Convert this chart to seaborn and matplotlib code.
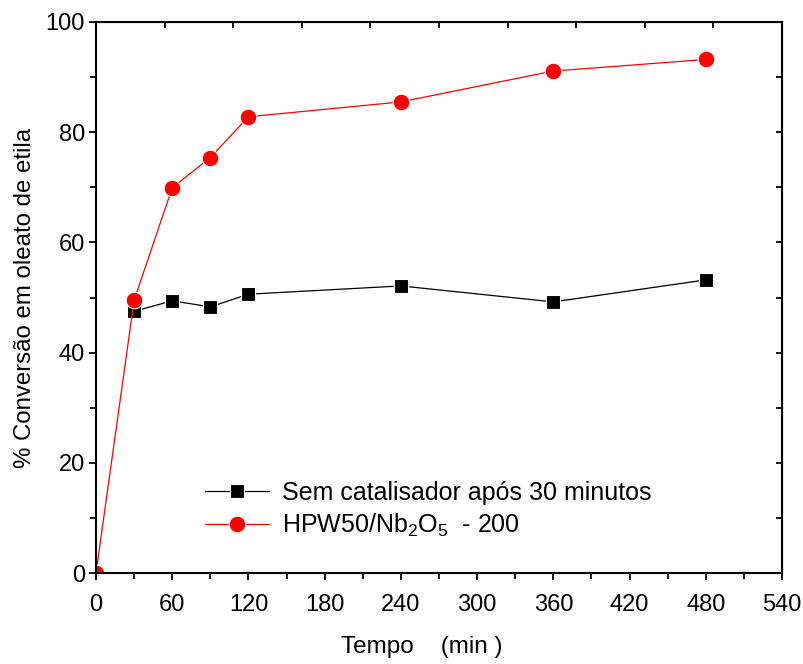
import numpy as np
import pandas as pd
import matplotlib
matplotlib.use("Agg")
import matplotlib.pyplot as plt
import seaborn as sns
from matplotlib.ticker import MultipleLocator

# ---- data ----
t_sem = [30, 60, 90, 120, 240, 360, 480]
conv_sem = [47.5, 49.4, 48.3, 50.6, 52.1, 49.2, 53.2]
t_hpw = [0, 30, 60, 90, 120, 240, 360, 480]
conv_hpw = [0.0, 49.5, 69.9, 75.4, 82.8, 85.5, 91.1, 93.2]
label_sem = "Sem catalisador após 30 minutos"
label_hpw = "HPW50/Nb$_2$O$_5$  - 200"
x_ticks = [0, 60, 120, 180, 240, 300, 360, 420, 480, 540]
y_ticks = [0, 20, 40, 60, 80, 100]

sns.set_style("ticks")
plt.rcParams['font.family'] = ['Liberation Sans', 'DejaVu Sans']
plt.rcParams['mathtext.fontset'] = 'custom'
plt.rcParams['mathtext.rm'] = 'Liberation Sans'
plt.rcParams['mathtext.it'] = 'Liberation Sans'
for k in ['text.color', 'axes.labelcolor', 'xtick.color', 'ytick.color']:
    plt.rcParams[k] = 'black'

fig = plt.figure(figsize=(8.04, 6.64), dpi=100)
ax = fig.add_axes([96/804, 1-573/664, (782-96)/804, (573-22)/664])

df_sem = pd.DataFrame({"t": t_sem, "c": conv_sem})
df_hpw = pd.DataFrame({"t": t_hpw, "c": conv_hpw})

sns.lineplot(data=df_sem, x="t", y="c", ax=ax, color="black", lw=0.9,
             marker="s", markersize=10, markeredgecolor="white",
             markeredgewidth=0.8, label=label_sem)
sns.lineplot(data=df_hpw, x="t", y="c", ax=ax, color="#ff0000", lw=0.9,
             marker="o", markersize=12, markeredgecolor="white",
             markeredgewidth=0.8, label=label_hpw)

ax.set_xlim(0, 540)
ax.set_ylim(0, 100)
ax.set_xticks(x_ticks)
ax.set_yticks(y_ticks)
ax.xaxis.set_minor_locator(MultipleLocator(30))
ax.yaxis.set_minor_locator(MultipleLocator(10))
ax.tick_params(axis='both', which='major', direction='out', length=5, width=1.3,
               labelsize=17, top=False, right=False)
ax.tick_params(axis='x', which='major', pad=10)
ax.tick_params(axis='y', which='major', pad=3)
ax.tick_params(axis='both', which='minor', direction='out', length=4, width=1.3,
               top=False, right=False)
for s in ax.spines.values():
    s.set_linewidth(1.5)
    s.set_color('black')

# top and right inward ticks
axt = ax.secondary_xaxis('top')
axt.set_xticks(np.arange(0, 541, 54))
axt.tick_params(direction='in', length=4, width=1.3, labeltop=False)
axr = ax.secondary_yaxis('right')
axr.set_yticks(np.arange(0, 101, 10))
axr.tick_params(direction='in', length=4, width=1.3, labelright=False)

ax.set_xlabel("Tempo    (min )", fontsize=17.5)
ax.xaxis.set_label_coords(0.475, -0.115)
ax.set_ylabel("% Conversão em oleato de etila", fontsize=17.3)
ax.yaxis.set_label_coords(-0.087, 0.5)

leg = ax.legend(loc='upper left', bbox_to_anchor=(0.145, 0.185), frameon=False,
                fontsize=18, handlelength=2.55, handletextpad=0.5,
                labelspacing=0.28, borderaxespad=0)

fig.savefig("out.png", dpi=100)
